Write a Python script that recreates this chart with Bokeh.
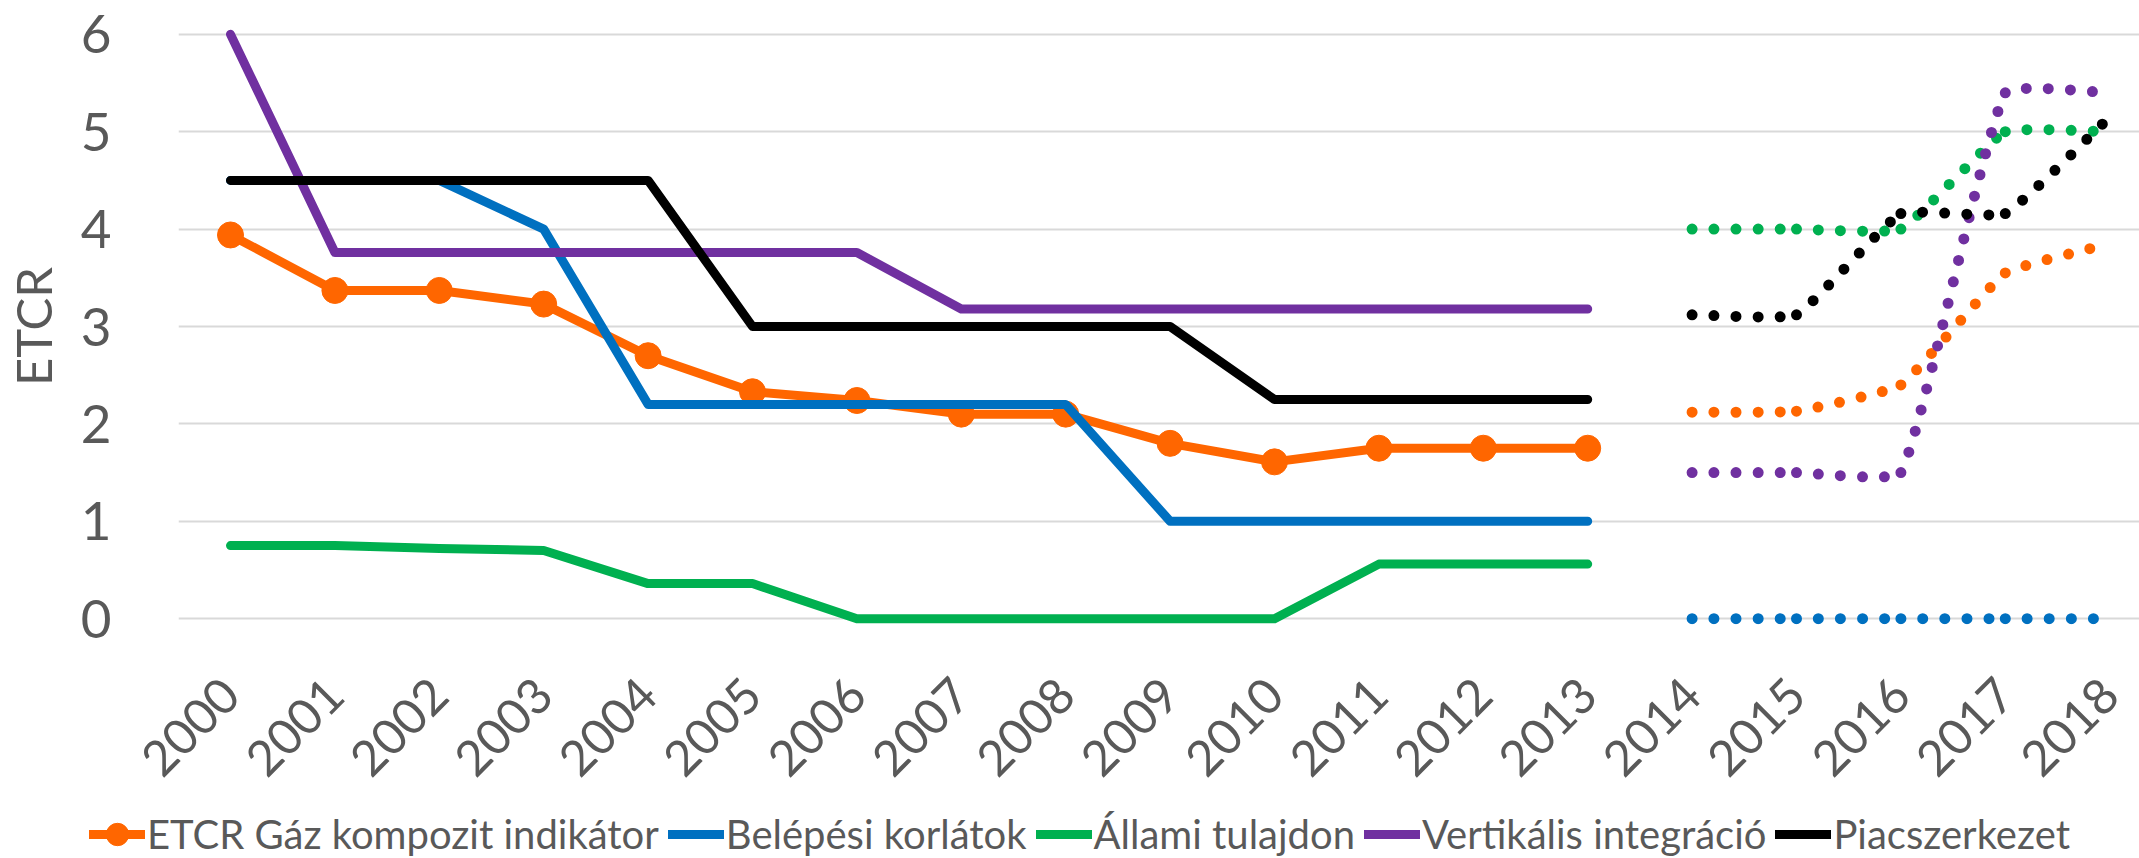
import math
from bokeh.plotting import figure
from bokeh.layouts import column
from bokeh.models import Range1d, FixedTicker, Legend, LegendItem
from bokeh.embed import file_html
from bokeh.resources import INLINE

# ---------------- data ----------------
years = list(range(2000, 2019))
year_labels = [str(y) for y in years]
hist_years = list(range(2000, 2014))
proj_years = list(range(2014, 2019))
y_ticks = [0, 1, 2, 3, 4, 5, 6]

series_names = ["ETCR Gáz kompozit indikátor", "Belépési korlátok", "Állami tulajdon",
                "Vertikális integráció", "Piacszerkezet"]
series_colors = ["#FF6600", "#0070C0", "#00B050", "#7030A0", "#000000"]

etcr_hist = [3.94, 3.37, 3.37, 3.23, 2.70, 2.33, 2.24, 2.10, 2.10, 1.80, 1.61, 1.75, 1.75, 1.75]
entry_hist = [4.5, 4.5, 4.5, 4.0, 2.2, 2.2, 2.2, 2.2, 2.2, 1.0, 1.0, 1.0, 1.0, 1.0]
state_hist = [0.75, 0.75, 0.72, 0.70, 0.36, 0.36, 0.0, 0.0, 0.0, 0.0, 0.0, 0.56, 0.56, 0.56]
vert_hist = [6.0, 3.76, 3.76, 3.76, 3.76, 3.76, 3.76, 3.18, 3.18, 3.18, 3.18, 3.18, 3.18, 3.18]
market_hist = [4.5, 4.5, 4.5, 4.5, 4.5, 3.0, 3.0, 3.0, 3.0, 3.0, 2.25, 2.25, 2.25, 2.25]

etcr_proj = [2.12, 2.13, 2.40, 3.55, 3.85]
entry_proj = [0.0, 0.0, 0.0, 0.0, 0.0]
state_proj = [4.0, 4.0, 4.0, 5.0, 5.0]
vert_proj = [1.5, 1.5, 1.5, 5.4, 5.4]
market_proj = [3.12, 3.12, 4.16, 4.16, 5.15]

hist_series = [etcr_hist, entry_hist, state_hist, vert_hist, market_hist]
proj_series = [etcr_proj, entry_proj, state_proj, vert_proj, market_proj]

# ---------------- layout constants ----------------
TEXT = "#595959"
FONT = "Lato"
PAGE_W = 2139
MAIN_H = 809
LEG_H = 49
PX_X = 104.4   # pixels per year in the frame
PX_Y = 97.4    # pixels per unit in the frame
LEFT = 178
TOP = 28
FRAME_W = PAGE_W - LEFT
FRAME_H = 596
x0 = 2000 - 52 / PX_X
y_pad = 0.06
LINE_W = 9
LEG_LEFT = 89
LEG_CENTER = 25     # legend row centre, from the top of the legend strip
GLYPH_H = 60

p = figure(frame_width=FRAME_W, frame_height=FRAME_H,
           min_border_left=LEFT, min_border_right=0, min_border_top=TOP,
           min_border_bottom=MAIN_H - TOP - FRAME_H,
           x_range=Range1d(x0, x0 + FRAME_W / PX_X),
           y_range=Range1d(-y_pad, 6 + y_pad),
           output_backend="svg", toolbar_location=None,
           background_fill_color="white", border_fill_color="white")
p.outline_line_color = None
p.xgrid.grid_line_color = None
p.ygrid.ticker = FixedTicker(ticks=y_ticks)
p.ygrid.grid_line_color = "#D9D9D9"
p.ygrid.grid_line_width = 2

# y axis
p.yaxis.ticker = FixedTicker(ticks=y_ticks)
p.yaxis.axis_line_color = None
p.yaxis.major_tick_line_color = None
p.yaxis.minor_tick_line_color = None
p.yaxis.major_tick_out = 0
p.yaxis.major_tick_in = 0
p.yaxis.major_label_standoff = 67
p.yaxis.major_label_text_font = FONT
p.yaxis.major_label_text_font_size = "53px"
p.yaxis.major_label_text_color = TEXT
p.yaxis.axis_label = "ETCR"
p.yaxis.axis_label_text_font = FONT
p.yaxis.axis_label_text_font_size = "49px"
p.yaxis.axis_label_text_font_style = "normal"
p.yaxis.axis_label_text_color = TEXT
p.yaxis.axis_label_standoff = 16

# x axis
p.xaxis.ticker = FixedTicker(ticks=years)
p.xaxis.major_label_overrides = {y: s for y, s in zip(years, year_labels)}
p.xaxis.axis_line_color = None
p.xaxis.major_tick_line_color = None
p.xaxis.minor_tick_line_color = None
p.xaxis.major_tick_out = 0
p.xaxis.major_tick_in = 0
p.xaxis.major_label_standoff = 62
p.xaxis.major_label_orientation = math.pi / 4
p.xaxis.major_label_text_font = FONT
p.xaxis.major_label_text_font_size = "49px"
p.xaxis.major_label_text_color = TEXT


def smooth_segments(xs, ys, k=0.11):
    """Bezier control points for a smoothed line through the data points."""
    P = [(x * PX_X, y * PX_Y) for x, y in zip(xs, ys)]
    n = len(P)
    out = {k_: [] for k_ in ("x0", "y0", "x1", "y1", "cx0", "cy0", "cx1", "cy1")}
    for i in range(n - 1):
        p0 = P[i - 1] if i > 0 else P[i]
        p1, p2 = P[i], P[i + 1]
        p3 = P[i + 2] if i + 2 < n else P[i + 1]
        d12 = math.hypot(p2[0] - p1[0], p2[1] - p1[1])
        t1 = (p2[0] - p0[0], p2[1] - p0[1])
        l1 = math.hypot(*t1) or 1.0
        t2 = (p3[0] - p1[0], p3[1] - p1[1])
        l2 = math.hypot(*t2) or 1.0
        c1 = (p1[0] + t1[0] / l1 * d12 * k, p1[1] + t1[1] / l1 * d12 * k)
        c2 = (p2[0] - t2[0] / l2 * d12 * k, p2[1] - t2[1] / l2 * d12 * k)
        out["x0"].append(xs[i]); out["y0"].append(ys[i])
        out["x1"].append(xs[i + 1]); out["y1"].append(ys[i + 1])
        out["cx0"].append(c1[0] / PX_X); out["cy0"].append(c1[1] / PX_Y)
        out["cx1"].append(c2[0] / PX_X); out["cy1"].append(c2[1] / PX_Y)
    return out


for name, color, hist in zip(series_names, series_colors, hist_series):
    p.line(hist_years, hist, line_color=color, line_width=LINE_W,
           line_join="round", line_cap="round")
    if name == series_names[0]:
        p.scatter(hist_years, hist, size=26, marker="circle",
                  fill_color=color, line_color=color)

for color, proj in zip(series_colors, proj_series):
    seg = smooth_segments(proj_years, proj)
    p.bezier(x0=seg["x0"], y0=seg["y0"], x1=seg["x1"], y1=seg["y1"],
             cx0=seg["cx0"], cy0=seg["cy0"], cx1=seg["cx1"], cy1=seg["cy1"],
             line_color=color, line_width=11, line_dash="0 22", line_cap="round")

# ---------------- legend strip ----------------
# The strip's view range lies outside the data, so its renderers only feed the legend.
lf = figure(width=PAGE_W, height=LEG_H,
            x_range=Range1d(0, 1), y_range=Range1d(0, 1),
            x_axis_type=None, y_axis_type=None,
            output_backend="svg", toolbar_location=None,
            background_fill_color="white", border_fill_color="white")
lf.min_border_top = 0
lf.min_border_bottom = 0
lf.min_border_right = 0
lf.outline_line_color = None
lf.grid.visible = False

aligned_off = False
if "frame_align" in lf.properties():
    lf.frame_align = False
    p.frame_align = False
    aligned_off = True

if aligned_off:
    lf.min_border_left = 0
    leg_x = LEG_LEFT
else:
    lf.min_border_left = LEFT
    leg_x = LEG_LEFT - LEFT

legend_items = []
for name, color, hist in zip(series_names, series_colors, hist_series):
    r = lf.line(hist_years, hist, line_color=color, line_width=LINE_W, line_cap="round")
    rends = [r]
    if name == series_names[0]:
        rends.append(lf.scatter(hist_years, hist, size=26, marker="circle",
                                fill_color=color, line_color=color))
    legend_items.append(LegendItem(label=name, renderers=rends))

legend = Legend(items=legend_items, orientation="horizontal",
                location=(leg_x, LEG_H - LEG_CENTER - GLYPH_H / 2),
                glyph_width=56, glyph_height=GLYPH_H, label_standoff=2, spacing=9,
                padding=0, margin=0,
                label_text_font=FONT, label_text_font_size="40px",
                label_text_color=TEXT,
                border_line_color=None, background_fill_alpha=0)
lf.add_layout(legend)

layout = column(p, lf, spacing=0)
open("out.html", "w").write(file_html(layout, INLINE))
